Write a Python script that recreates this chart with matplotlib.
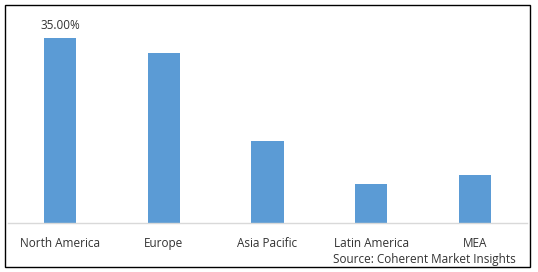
import matplotlib as mpl
mpl.use('Agg')
import matplotlib.pyplot as plt
from matplotlib.patches import Rectangle

regions = ["North America", "Europe", "Asia Pacific", "Latin America", "MEA"]
shares = [35.0, 32.3, 15.5, 7.4, 9.1]
bar_color = "#5b9bd5"
text_color = "#333333"

plt.rcParams['font.family'] = ['Open Sans', 'DejaVu Sans']

fig = plt.figure(figsize=(5.38, 2.72), dpi=100)
W, H = 538, 272
ax = fig.add_axes([8 / W, 1 - 223 / H, (527 - 8) / W, (223 - 12) / H])

x = range(len(regions))
ax.bar(x, shares, width=0.31, color=bar_color, zorder=2)
ax.set_xlim(-0.5, len(regions) - 0.5)
ax.set_ylim(0, 40)

ax.text(0, shares[0] + 2.4, "35.00%", ha="center", va="center",
        fontsize=8.5, color=text_color)

ax.set_xticks(list(x))
ax.set_xticklabels(regions, fontsize=8.5, color=text_color)
ax.tick_params(axis="x", length=0, pad=10)
ax.set_yticks([])
for s in ["top", "right", "left"]:
    ax.spines[s].set_visible(False)
ax.spines["bottom"].set_color("#d9d9d9")
ax.spines["bottom"].set_linewidth(1)

fig.text(516 / W, 1 - 259.5 / H, "Source: Coherent Market Insights",
         ha="right", va="center", fontsize=8.5, color=text_color)

fig.patches.append(Rectangle((4.5 / W, 1 - 267 / H), (530 - 4.5) / W, (267 - 5) / H,
                             transform=fig.transFigure, fill=False,
                             edgecolor="black", linewidth=1))

fig.savefig("out.png", dpi=100)
